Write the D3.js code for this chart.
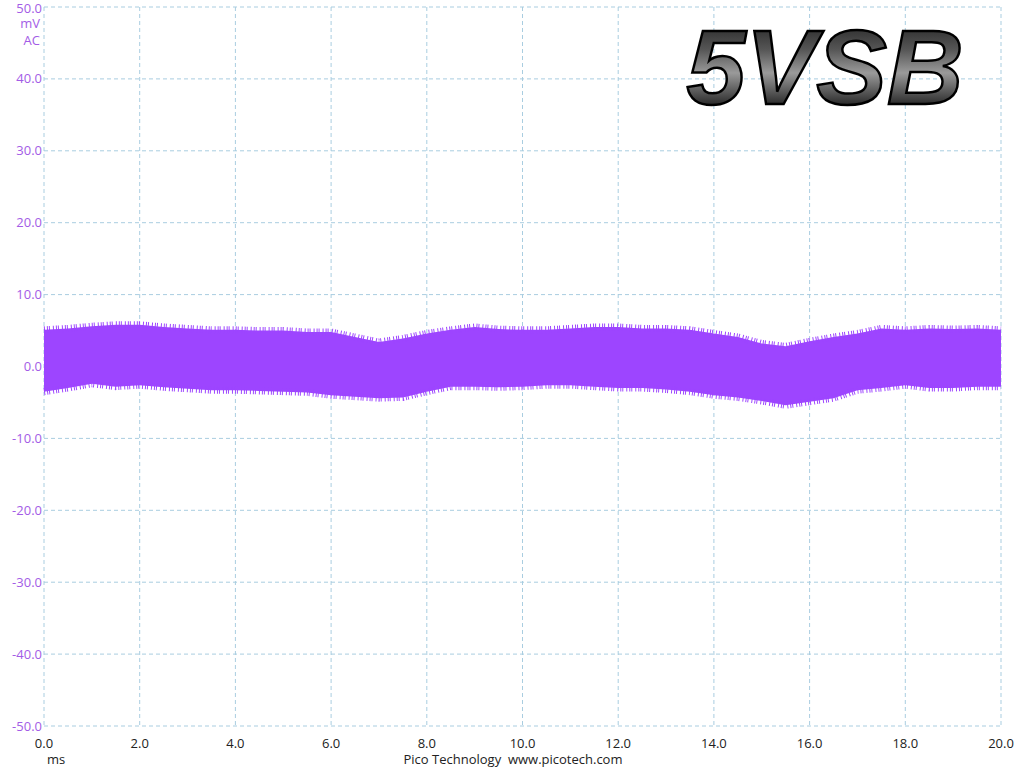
<!DOCTYPE html>
<html>
<head>
<meta charset="utf-8">
<script src="https://cdn.jsdelivr.net/npm/d3@7"></script>
<style>
  body { margin: 0; background: #fff; }
  svg text { font-family: 'Open Sans', 'DejaVu Sans', sans-serif; }
  .y-label { fill: #a35ce6; font-size: 13px; }
  .x-label { fill: #222; font-size: 13px; }
</style>
</head>
<body>
<svg id="scope-svg"></svg>
<script>
const times = [0, 0.5, 1, 1.5, 2, 2.5, 3, 3.5, 4, 4.5, 5, 5.5, 6, 6.5, 7, 7.5, 8, 8.5, 9, 9.5,
  10, 10.5, 11, 11.5, 12, 12.5, 13, 13.5, 14, 14.5, 15, 15.5, 16, 16.5, 17, 17.5, 18, 18.5, 19, 19.5, 20];
// Upper / lower edge of the ripple band (mV)
const upper = [5.1, 5.3, 5.6, 5.8, 5.8, 5.5, 5.3, 5.1, 5.1, 5.0, 5.0, 4.8, 4.8, 4.1, 3.4, 3.9, 4.6, 5.1, 5.5, 5.2,
  5.1, 5.1, 5.3, 5.5, 5.5, 5.3, 5.3, 5.1, 4.6, 4.1, 3.2, 2.8, 3.5, 4.1, 4.6, 5.3, 5.1, 5.3, 5.2, 5.3, 5.1];
const lower = [-3.5, -3.0, -2.4, -2.8, -2.6, -2.9, -3.1, -3.3, -3.3, -3.4, -3.5, -3.6, -4.0, -4.2, -4.4, -4.3, -3.5, -2.8, -2.8, -2.9,
  -2.8, -2.6, -2.6, -2.8, -3.0, -3.0, -3.2, -3.5, -4.0, -4.3, -4.8, -5.4, -4.9, -4.4, -3.3, -3.0, -2.6, -3.0, -3.0, -2.8, -2.8];

const xTicks = [0, 2, 4, 6, 8, 10, 12, 14, 16, 18, 20];
const yTicks = [50, 40, 30, 20, 10, 0, -10, -20, -30, -40, -50];
const title = '5VSB';

const width = 1024;
const height = 768;
const margin = { left: 44, right: 23, top: 7, bottom: 42 };
const innerW = width - margin.left - margin.right;
const innerH = height - margin.top - margin.bottom;
const traceColor = '#9d45ff';

const svg = d3.select('#scope-svg').attr('width', width).attr('height', height);

const xScale = d3.scaleLinear().domain([0, 20]).range([0, innerW]);
const yScale = d3.scaleLinear().domain([-50, 50]).range([innerH, 0]);

const g = svg.append('g').attr('transform', `translate(${margin.left},${margin.top})`);

// Grid
g.append('g')
  .selectAll('line')
  .data(xTicks)
  .join('line')
  .attr('x1', (d) => xScale(d))
  .attr('x2', (d) => xScale(d))
  .attr('y1', 0)
  .attr('y2', innerH)
  .attr('stroke', '#a9cde0')
  .attr('stroke-dasharray', '4,3');
g.append('g')
  .selectAll('line')
  .data(yTicks)
  .join('line')
  .attr('x1', 0)
  .attr('x2', innerW)
  .attr('y1', (d) => yScale(d))
  .attr('y2', (d) => yScale(d))
  .attr('stroke', '#a9cde0')
  .attr('stroke-dasharray', '4,3');

// Title with a metallic look
const defs = svg.append('defs');
const grad = defs.append('linearGradient').attr('id', 'metal').attr('x1', 0).attr('y1', 0).attr('x2', 0).attr('y2', 1);
grad.append('stop').attr('offset', '0%').attr('stop-color', '#111');
grad.append('stop').attr('offset', '35%').attr('stop-color', '#555');
grad.append('stop').attr('offset', '55%').attr('stop-color', '#9a9a9a');
grad.append('stop').attr('offset', '80%').attr('stop-color', '#333');
grad.append('stop').attr('offset', '100%').attr('stop-color', '#000');

svg.append('text')
  .attr('x', 825)
  .attr('y', 104)
  .attr('text-anchor', 'middle')
  .style('font-family', "'Liberation Sans', Arial, sans-serif")
  .style('font-size', '106px')
  .style('font-weight', 'bold')
  .style('font-style', 'italic')
  .attr('fill', 'url(#metal)')
  .attr('stroke', '#000')
  .attr('stroke-width', 2.5)
  .text(title);

// Ripple band
const band = d3.area()
  .x((d, i) => xScale(times[i]))
  .y0((d, i) => yScale(lower[i]))
  .y1((d, i) => yScale(upper[i]));

g.append('path')
  .datum(times)
  .attr('fill', traceColor)
  .attr('d', band);

// Fuzzy spike fringe along both edges of the band
const edge = (vals) => d3.line()
  .x((d, i) => xScale(times[i]))
  .y((d, i) => yScale(vals[i]));

[upper, lower].forEach((vals) => {
  g.append('path')
    .datum(times)
    .attr('fill', 'none')
    .attr('stroke', traceColor)
    .attr('stroke-width', 7)
    .attr('stroke-dasharray', '1,2,1,1,1,3')
    .attr('d', edge(vals));
});

// Y labels
g.append('g')
  .selectAll('text')
  .data(yTicks)
  .join('text')
  .attr('class', 'y-label')
  .attr('x', -2)
  .attr('y', (d) => yScale(d))
  .attr('dy', (d) => (d === 50 ? '0.45em' : '0.35em'))
  .attr('text-anchor', 'end')
  .text((d) => d.toFixed(1));

g.append('text').attr('class', 'y-label').attr('x', -4).attr('y', 21).attr('text-anchor', 'end').text('mV');
g.append('text').attr('class', 'y-label').attr('x', -4).attr('y', 38).attr('text-anchor', 'end').text('AC');

// X labels
g.append('g')
  .selectAll('text')
  .data(xTicks)
  .join('text')
  .attr('class', 'x-label')
  .attr('x', (d) => xScale(d))
  .attr('y', innerH + 22)
  .attr('text-anchor', 'middle')
  .text((d) => d.toFixed(1));

g.append('text').attr('class', 'x-label').attr('x', 12).attr('y', innerH + 38).attr('text-anchor', 'middle').text('ms');
svg.append('text')
  .attr('class', 'x-label')
  .attr('x', 513)
  .attr('y', height - 4)
  .attr('text-anchor', 'middle')
  .attr('xml:space', 'preserve')
  .text('Pico Technology  www.picotech.com');
</script>
</body>
</html>
